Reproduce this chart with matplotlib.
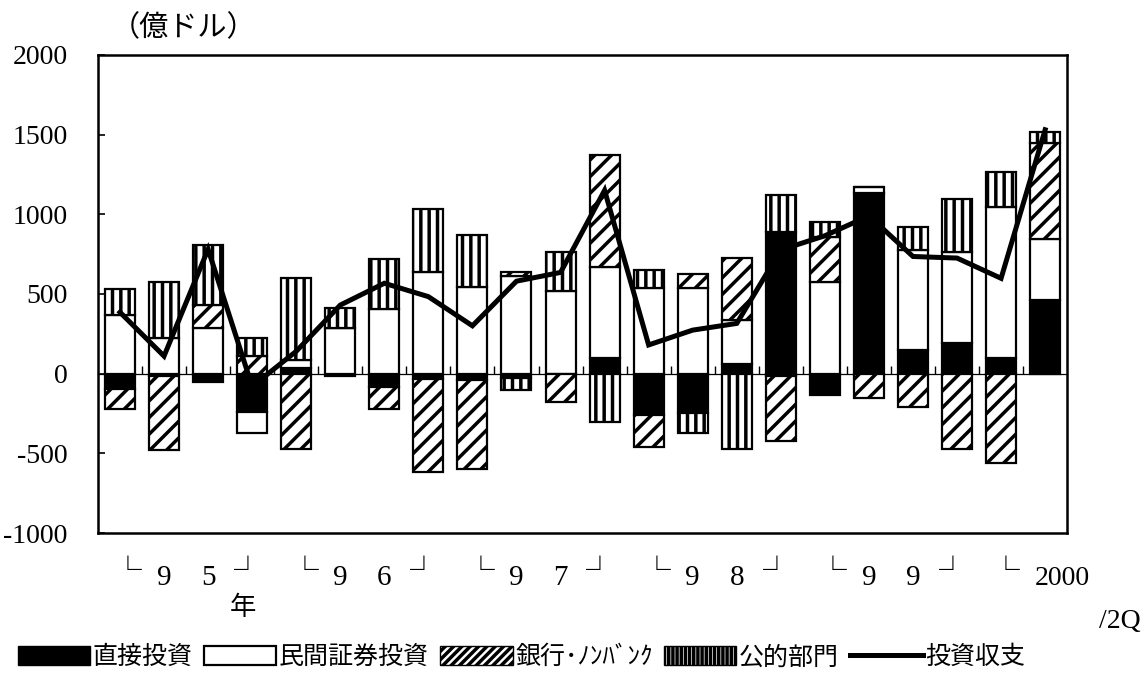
import numpy as np
import matplotlib
matplotlib.use('Agg')
import matplotlib.pyplot as plt
from matplotlib.patches import Patch
from matplotlib.lines import Line2D
from matplotlib.transforms import blended_transform_factory

plt.rcParams['axes.unicode_minus'] = False
plt.rcParams['hatch.linewidth'] = 2.5

# quarterly data 1995Q1 - 2000Q2 (100 million dollars)
quarters = ['95Q1', '95Q2', '95Q3', '95Q4', '96Q1', '96Q2', '96Q3', '96Q4',
            '97Q1', '97Q2', '97Q3', '97Q4', '98Q1', '98Q2', '98Q3', '98Q4',
            '99Q1', '99Q2', '99Q3', '99Q4', '00Q1', '00Q2']
direct = [-95, -15, -50, -240, 35, -15, -85, -35, -40, -30, 0,
          95, -260, -250, 60, 890, -135, 1135, 150, 195, 95, 460]
portfolio = [365, 225, 285, -135, 50, 285, 405, 640, 545, 615, 520,
             575, 540, 535, 275, -15, 575, 35, 625, 565, 950, 385]
bank = [-125, -465, 145, 110, -470, 0, -140, -580, -560, 20, -180,
        700, -200, 90, 390, -405, 285, -155, -210, -470, -560, 600]
public = [165, 350, 380, 115, 515, 125, 315, 390, 325, -70, 240,
          -305, 110, -125, -475, 230, 90, 0, 145, 335, 220, 70]
balance = [385, 110, 780, -80, 140, 430, 567, 483, 300, 580, 635,
           1150, 180, 273, 315, 776, 865, 990, 735, 725, 598, 1530]

yticks = [2000, 1500, 1000, 500, 0, -500, -1000]
year_groups = [('9', '5', 0), ('9', '6', 4), ('9', '7', 8), ('9', '8', 12), ('9', '9', 16)]

series = [direct, portfolio, bank, public]
styles = [dict(facecolor='black', hatch=None),
          dict(facecolor='white', hatch=None),
          dict(facecolor='white', hatch='//'),
          dict(facecolor='white', hatch='||')]

fig = plt.figure(figsize=(11.47, 6.73), dpi=100)
ax = fig.add_axes([0.0854, 0.208, 0.845, 0.7105])

x = np.arange(len(quarters))
pos_base = np.zeros(len(x))
neg_base = np.zeros(len(x))
for vals, st in zip(series, styles):
    v = np.array(vals, dtype=float)
    bottoms = np.where(v >= 0, pos_base, neg_base)
    ax.bar(x, v, bottom=bottoms, width=0.68, edgecolor='black', linewidth=1.6,
           facecolor=st['facecolor'], hatch=st['hatch'], zorder=2)
    pos_base = pos_base + np.where(v > 0, v, 0)
    neg_base = neg_base + np.where(v < 0, v, 0)

ax.plot(x, balance, color='black', linewidth=3.6, zorder=4, solid_joinstyle='miter')

ax.set_xlim(-0.5, len(x) - 0.5)
ax.set_ylim(-1000, 2000)
ax.set_yticks(yticks)
ax.set_yticklabels([str(t) for t in yticks], fontsize=20, family='Liberation Serif')
ax.tick_params(axis='y', direction='in', length=5, width=1.2, pad=22)
ax.set_xticks([])
for s in ax.spines.values():
    s.set_linewidth(1.8)

# zero line with small category ticks
zero_ax = ax.secondary_xaxis(1000 / 3000)
zero_ax.set_xticks(x[:-1] + 0.5)
zero_ax.set_xticklabels([])
zero_ax.tick_params(direction='in', length=6, width=1.0)
zero_ax.spines['bottom'].set_linewidth(0.9)

# unit
fig.text(0.16, 0.958, '（億ドル）', fontsize=21, family=['Noto Sans CJK JP'],
         ha='center', va='center')

# year labels below the plot
tr = blended_transform_factory(ax.transData, fig.transFigure)
num_font = ['Liberation Serif', 'DejaVu Sans']
box_font = ['Noto Sans CJK JP', 'DejaVu Sans']
for d1, d2, g in year_groups:
    ax.text(g + 0.18, 0.150, '└', transform=tr, fontsize=20, family=box_font,
            ha='center', va='center')
    ax.text(g + 1.0, 0.141, d1, transform=tr, fontsize=21, family=num_font,
            ha='center', va='center')
    ax.text(g + 2.0, 0.141, d2, transform=tr, fontsize=21, family=num_font,
            ha='center', va='center')
    ax.text(g + 2.9, 0.150, '┘', transform=tr, fontsize=20, family=box_font,
            ha='center', va='center')
ax.text(20.1, 0.150, '└', transform=tr, fontsize=20, family=box_font,
        ha='center', va='center')
ax.text(21.4, 0.141, '2000', transform=tr, fontsize=20, family=num_font,
        ha='center', va='center')
ax.text(2.8, 0.097, '年', transform=tr, fontsize=19, family=['Noto Sans CJK JP'],
        ha='center', va='center')
fig.text(0.976, 0.076, '/2Q', fontsize=20, family=num_font, ha='center', va='center')

handles = [Patch(facecolor='black', edgecolor='black'),
           Patch(facecolor='white', edgecolor='black', linewidth=1.6),
           Patch(facecolor='white', edgecolor='black', hatch='////'),
           Patch(facecolor='white', edgecolor='black', hatch='||||'),
           Line2D([0], [0], color='black', linewidth=3.6)]
labels = ['直接投資', '民間証券投資', '銀行･ﾉﾝﾊﾞﾝｸ', '公的部門', '投資収支']
fig.legend(handles, labels, loc='lower left', bbox_to_anchor=(0.0, -0.022), ncol=5,
           frameon=False, prop={'family': ['Noto Sans CJK JP', 'DejaVu Sans'], 'size': 18},
           handlelength=2.9, handleheight=0.8, handletextpad=0.1, columnspacing=0.45,
           borderpad=0.2)

fig.savefig('out.png', dpi=100)
